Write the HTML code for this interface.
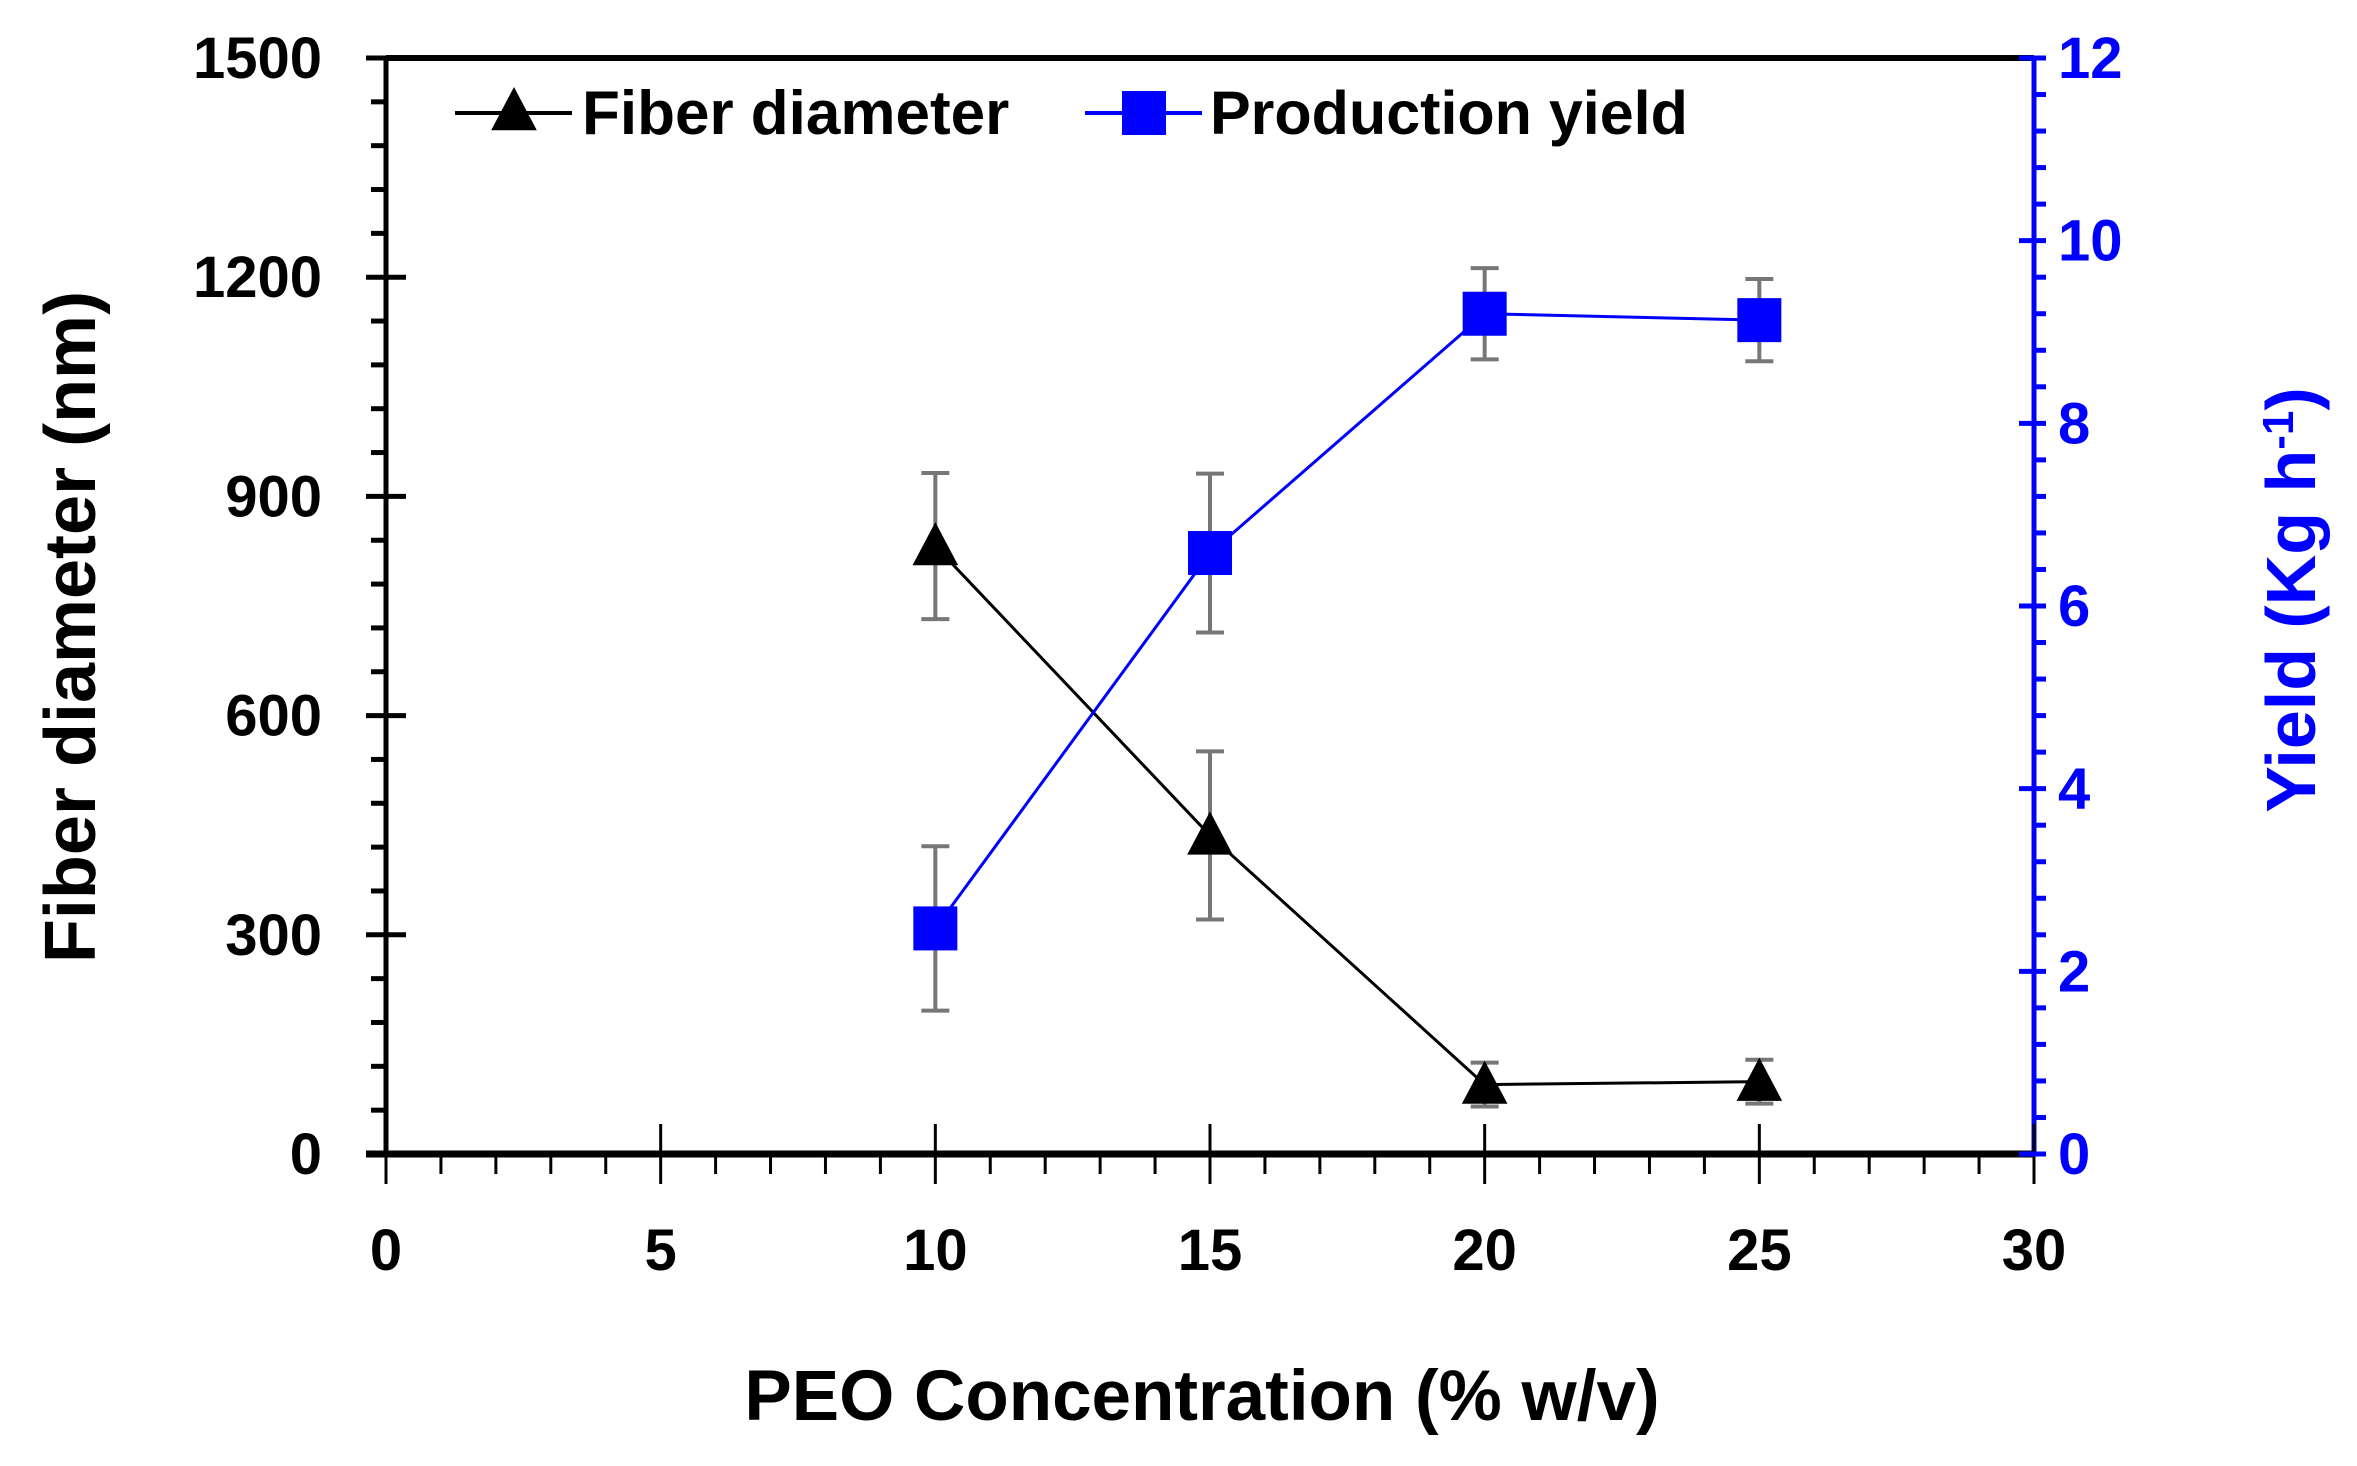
<!DOCTYPE html>
<html><head><meta charset="utf-8"><style>
html,body{margin:0;padding:0;background:#fff}
svg{display:block}
text{font-family:"Liberation Sans",sans-serif;font-weight:bold}
</style></head><body>
<svg id="chart" width="2357" height="1466" viewBox="0 0 2357 1466" xmlns="http://www.w3.org/2000/svg"></svg>
<script>
const xCats=[10,15,20,25];
const diameter=[832,436,95,99];
const diameterErr=[100,115,30,30];
const yieldVals=[2.47,6.58,9.2,9.13];
const yieldErr=[0.9,0.87,0.5,0.45];
const xTicks=[0,5,10,15,20,25,30];
const yLeftTicks=[0,300,600,900,1200,1500];
const yRightTicks=[0,2,4,6,8,10,12];

const svg=document.getElementById('chart');
const NS='http://www.w3.org/2000/svg';
const L=386,R=2034,T=58,B=1154;
const xs=v=>L+(v-0)/30*(R-L);
const yl=v=>B-v/1500*(B-T);
const yr=v=>B-v/12*(B-T);
function el(tag,attrs,parent){const e=document.createElementNS(NS,tag);for(const k in attrs)e.setAttribute(k,attrs[k]);(parent||svg).appendChild(e);return e;}
function txt(s,attrs,parent){const e=el('text',attrs,parent);e.textContent=s;return e;}

const axes=el('g',{});


el('line',{x1:L,y1:T,x2:R,y2:T,stroke:'#000','stroke-width':6},axes);
el('line',{x1:L,y1:T,x2:L,y2:B,stroke:'#000','stroke-width':5},axes);
el('line',{x1:R,y1:T,x2:R,y2:B,stroke:'#0000ff','stroke-width':5},axes);
el('line',{x1:L-20,y1:B,x2:R,y2:B,stroke:'#000','stroke-width':7},axes);
for(let v=0;v<=1500;v+=60){const maj=v%300===0;el('line',{x1:maj?L-20:L-15,y1:yl(v),x2:maj?L+20:L,y2:yl(v),stroke:'#000','stroke-width':5},axes);}
yLeftTicks.forEach(v=>{const t=txt(v,{x:322,y:yl(v)+20,'text-anchor':'end','font-size':58,fill:'#000'});
});
for(let v=0;v<=30;v+=1){const maj=v%5===0;el('line',{x1:xs(v),y1:maj?B-30:B,x2:xs(v),y2:maj?B+30:B+20,stroke:'#000','stroke-width':3},axes);}
xTicks.forEach(v=>{const t=txt(v,{x:xs(v),y:1270,'text-anchor':'middle','font-size':58,fill:'#000'});
});
for(let v=0;v<=12.001;v+=0.4){const maj=Math.abs(v/2-Math.round(v/2))<1e-6;el('line',{x1:maj?R-15:R,y1:yr(v),x2:R+12,y2:yr(v),stroke:'#0000ff','stroke-width':5},axes);}
yRightTicks.forEach(v=>{const t=txt(v,{x:2058,y:yr(v)+20,'text-anchor':'start','font-size':58,fill:'#0000ff'});
});

let t=txt('PEO Concentration (% w/v)',{x:1202,y:1420,'text-anchor':'middle','font-size':71,fill:'#000'});

t=txt('Fiber diameter (nm)',{x:0,y:0,'text-anchor':'middle','font-size':72,fill:'#000',transform:'translate(95,627) rotate(-90)'});

t=el('text',{x:0,y:0,'text-anchor':'middle','font-size':70,fill:'#0000ff',transform:'translate(2315,600) rotate(-90)'});
t.innerHTML='Yield (Kg h<tspan dy="-22" font-size="44">-1</tspan><tspan dy="22">)</tspan>';


function tri(cx,cy,s,parent){return el('polygon',{points:`${cx},${cy-s} ${cx-s*0.95},${cy+s*0.8} ${cx+s*0.95},${cy+s*0.8}`,fill:'#000'},parent);}
const gD=el('g',{});
const gY=el('g',{});
xCats.forEach((c,i)=>{
  const x=xs(c);
  [[yl(diameter[i]-diameterErr[i]),yl(diameter[i]+diameterErr[i])],[yr(yieldVals[i]-yieldErr[i]),yr(yieldVals[i]+yieldErr[i])]].forEach(([a,b],k)=>{
    const g=k===0?gD:gY;
    const eb=el('g',{},g);
    
    el('line',{x1:x,y1:a,x2:x,y2:b,stroke:'#777','stroke-width':4},eb);
    el('line',{x1:x-14,y1:a,x2:x+14,y2:a,stroke:'#777','stroke-width':4},eb);
    el('line',{x1:x-14,y1:b,x2:x+14,y2:b,stroke:'#777','stroke-width':4},eb);
  });
});
el('polyline',{points:xCats.map((c,i)=>xs(c)+','+yl(diameter[i])).join(' '),fill:'none',stroke:'#000','stroke-width':3},gD);
el('polyline',{points:xCats.map((c,i)=>xs(c)+','+yr(yieldVals[i])).join(' '),fill:'none',stroke:'#0000ff','stroke-width':3},gY);
xCats.forEach((c,i)=>{
  const m=tri(xs(c),yl(diameter[i]),24,gD);
  
  const s=el('rect',{x:xs(c)-22,y:yr(yieldVals[i])-22,width:44,height:44,fill:'#0000ff'},gY);
  
});

const lg=el('g',{});
const l1=el('g',{},lg);
el('line',{x1:455,y1:113,x2:572,y2:113,stroke:'#000','stroke-width':4},l1);
tri(514,111,24,l1);
txt('Fiber diameter',{x:582,y:134,'font-size':62,fill:'#000'},l1);
const l2=el('g',{},lg);
el('line',{x1:1085,y1:113,x2:1202,y2:113,stroke:'#0000ff','stroke-width':4},l2);
el('rect',{x:1122,y:91,width:44,height:44,fill:'#0000ff'},l2);
txt('Production yield',{x:1210,y:134,'font-size':61,fill:'#000'},l2);
</script>
</body></html>
